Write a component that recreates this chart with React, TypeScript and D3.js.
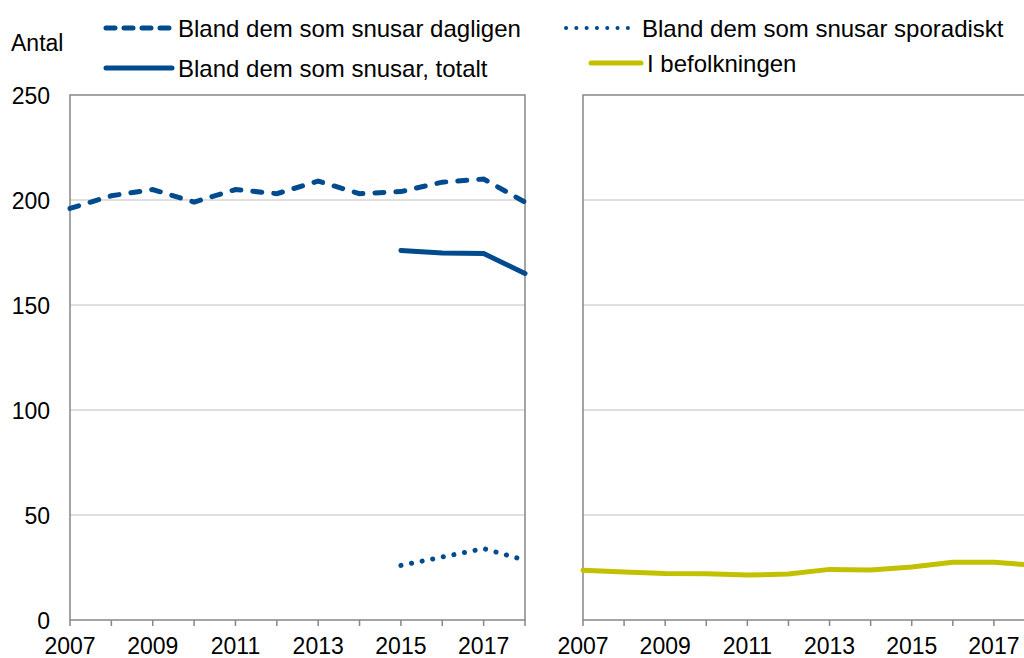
import React from "react";
import * as d3 from "d3";

const years = [2007, 2008, 2009, 2010, 2011, 2012, 2013, 2014, 2015, 2016, 2017, 2018];
const dagligen = [196, 202, 205, 199, 205, 203, 209, 203, 204, 208.5, 210, 199];
const totaltYears = [2015, 2016, 2017, 2018];
const totalt = [176, 174.8, 174.5, 165];
const sporadisktYears = [2015, 2016, 2017, 2018];
const sporadiskt = [26, 30, 34, 28.5];
const befolkningen = [23.7, 22.9, 22.2, 22.0, 21.4, 21.9, 24.1, 23.8, 25.2, 27.5, 27.5, 26.0];
const yTicks = [0, 50, 100, 150, 200, 250];
const xLabelYears = [2007, 2009, 2011, 2013, 2015, 2017];

const BLUE = "#004A8E";
const YELLOW = "#C3C000";
const AXIS = "#878787";
const GRID = "#C0C0C0";
const FONT = "'Liberation Sans', Arial, sans-serif";
const FS = 23;
const LFS = 24;

export default function App() {
  const y = d3.scaleLinear().domain([0, 250]).range([620, 95]);
  const xL = d3.scaleLinear().domain([2007, 2018]).range([70, 525]);
  const xR = d3.scaleLinear().domain([2007, 2018]).range([583, 1035]);

  const line = (xs: number[], vs: number[], x: d3.ScaleLinear<number, number>) =>
    d3.line<number>().x((_, i) => x(xs[i])).y((v) => y(v))(vs) || "";

  const panel = (x: d3.ScaleLinear<number, number>, key: string, showY: boolean) => {
    const [x0, x1] = x.range();
    return (
      <g key={key}>
        {yTicks.filter((t) => t > 0 && t < 250).map((t) => (
          <line key={t} x1={x0} x2={x1} y1={y(t)} y2={y(t)} stroke={GRID} strokeWidth={1} />
        ))}
        <rect x={x0} y={y(250)} width={x1 - x0} height={y(0) - y(250)} fill="none" stroke={AXIS} strokeWidth={1.5} />
        {years.map((yr) => (
          <line key={yr} x1={x(yr)} x2={x(yr)} y1={y(0)} y2={y(0) + 6} stroke={AXIS} strokeWidth={1.5} />
        ))}
        {xLabelYears.map((yr) => (
          <text key={yr} x={x(yr)} y={654} textAnchor="middle" fontFamily={FONT} fontSize={FS} fill="#000">
            {yr}
          </text>
        ))}
        {showY &&
          yTicks.map((t) => (
            <text key={t} x={50} y={y(t) + 1} dy="0.36em" textAnchor="end" fontFamily={FONT} fontSize={FS} fill="#000">
              {t}
            </text>
          ))}
      </g>
    );
  };

  return (
    <svg width={1024} height={658} style={{ position: "absolute", left: 0, top: 0, background: "#fff" }}>
      <rect x={0} y={0} width={1024} height={658} fill="#fff" />
      {panel(xL, "L", true)}
      {panel(xR, "R", false)}

      <path d={line(years, dagligen, xL)} fill="none" stroke={BLUE} strokeWidth={5} strokeDasharray="9,12" strokeLinecap="round" />
      <path d={line(totaltYears, totalt, xL)} fill="none" stroke={BLUE} strokeWidth={5} strokeLinecap="round" />
      <path d={line(sporadisktYears, sporadiskt, xL)} fill="none" stroke={BLUE} strokeWidth={5} strokeDasharray="0.1,10.7" strokeLinecap="round" />
      <path d={line(years, befolkningen, xR)} fill="none" stroke={YELLOW} strokeWidth={5} strokeLinecap="round" />

      <text x={11} y={43} dy="0.36em" fontFamily={FONT} fontSize={FS} fill="#000">Antal</text>

      <line x1={106} x2={172} y1={28} y2={28} stroke={BLUE} strokeWidth={5} strokeDasharray="9,9" strokeLinecap="round" />
      <text x={178} y={28} dy="0.36em" fontFamily={FONT} fontSize={LFS} fill="#000">Bland dem som snusar dagligen</text>

      <line x1={106} x2={172} y1={68} y2={68} stroke={BLUE} strokeWidth={5} strokeLinecap="round" />
      <text x={178} y={68} dy="0.36em" fontFamily={FONT} fontSize={LFS} fill="#000">Bland dem som snusar, totalt</text>

      <line x1={566} x2={637} y1={28} y2={28} stroke={BLUE} strokeWidth={4} strokeDasharray="0.1,10.2" strokeLinecap="round" />
      <text x={642} y={28} dy="0.36em" fontFamily={FONT} fontSize={LFS} fill="#000">Bland dem som snusar sporadiskt</text>

      <line x1={591} x2={641} y1={63} y2={63} stroke={YELLOW} strokeWidth={5} strokeLinecap="round" />
      <text x={647} y={63} dy="0.36em" fontFamily={FONT} fontSize={LFS} fill="#000">I befolkningen</text>
    </svg>
  );
}
